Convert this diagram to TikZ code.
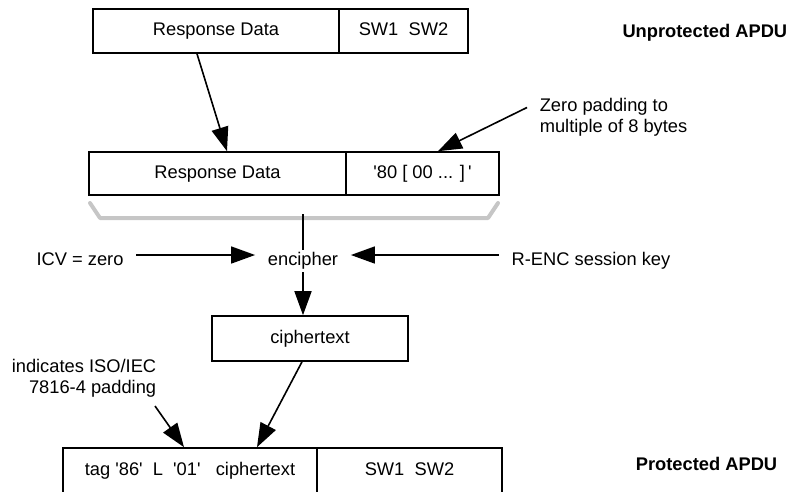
\documentclass[tikz,border=0pt]{standalone}
\usepackage{fontspec}
\setmainfont{Liberation Sans}
\usepackage{tikz}
\usetikzlibrary{arrows.meta}
\newcommand{\qt}{\textquotesingle}

\begin{document}
\begin{tikzpicture}[x=1pt, y=-1pt, >={Triangle[length=24pt, width=17pt]}, line width=1.6pt,
    font=\fontsize{18.3}{21}\selectfont,
    field/.style={draw, rectangle, minimum height=44pt, inner sep=0pt, text height=13pt, text depth=4pt},
    note/.style={inner xsep=12pt, inner ysep=2pt, text height=13pt, text depth=4pt},
    apdu/.style={anchor=east, inner sep=0pt, font=\fontsize{18.3}{21}\selectfont\bfseries, text height=13pt, text depth=4pt}]
  \useasboundingbox (0,0) rectangle (791,491);
  \clip (0,0) rectangle (791,491);

  \node[apdu] (unprot) at (788,33) {Unprotected APDU};
  \node[field, minimum width=246pt] (rdA) at (216,31) {Response Data};
  \node[field, minimum width=129pt] (swA) at (403.5,31) {SW1\ \ SW2};

  \node[field, minimum width=257pt, minimum height=43pt] (rdB) at (217.5,173.5) {Response Data};
  \node[field, minimum width=153pt, minimum height=43pt] (padB) at (422.5,173.5) {\qt80 [ 00 ... ]\,\qt};
  \node[align=left, anchor=west, inner sep=0pt] (zpad) at (539,117.5) {Zero padding to\\multiple of 8 bytes};
  \draw[->] ([xshift=-19pt]rdA.south) -- ([xshift=9.5pt]rdB.north);
  \draw[->] ([xshift=-12pt, yshift=10pt]zpad.west) -- ([xshift=15.5pt]padB.north);

  \draw[line width=4pt, gray!45, line cap=round, line join=round] (90,203) -- (100,218) -- (488,218) -- (498,203);
  \coordinate (brace) at (303,214);

  \node[note] (enc) at (303,261) {encipher};
  \node[note] (icv) at (80,261) {ICV = zero};
  \node[note] (renc) at (591,261) {R-ENC session key};
  \draw (brace) -- (enc.north);
  \draw[->] ([yshift=6pt]icv.east) -- ([yshift=6pt]enc.west);
  \draw[->] ([yshift=6pt]renc.west) -- ([yshift=6pt]enc.east);

  \node[field, minimum width=196pt, minimum height=45pt] (ciph) at (310,338.5) {ciphertext};
  \draw[->] (enc.south) -- (enc.south |- ciph.north);

  \node[align=right, anchor=east, inner sep=0pt] (iso) at (157,378) {indicates ISO/IEC\\7816-4 padding};
  \node[field, minimum width=254pt, minimum height=45pt] (tagC) at (190,470.5) {tag \qt86\qt\ \ L\ \ \qt01\qt\ \ \ ciphertext};
  \node[field, minimum width=185pt, minimum height=45pt] (swC) at (409.5,470.5) {SW1\ \ SW2};
  \node[apdu] (prot) at (778,466) {Protected APDU};
  \draw[->] ([xshift=-8pt]ciph.south) -- ([xshift=67pt]tagC.north);
  \draw[->] ([xshift=-2pt, yshift=-28pt]iso.east) -- ([xshift=-6pt]tagC.north);
\end{tikzpicture}
\end{document}
